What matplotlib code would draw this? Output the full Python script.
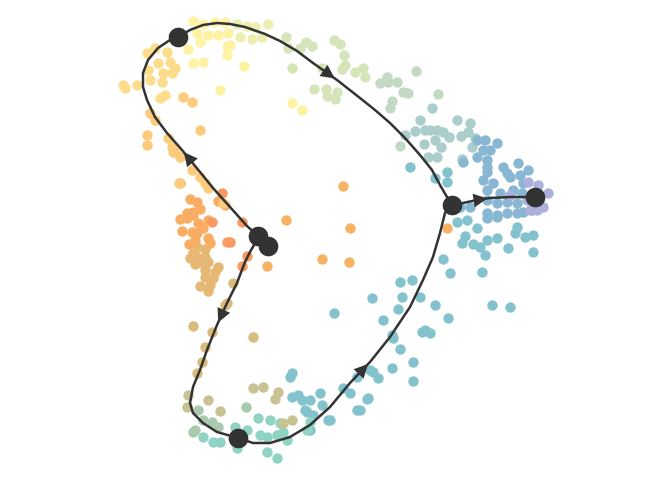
import matplotlib
matplotlib.use("Agg")
import matplotlib.pyplot as plt

# cell embedding (dim 1 to the right, dim 2 downward), grouped by colour along pseudotime
pale_orange = [(147, 53), (155, 48), (167, 52), (158, 63), (170, 62), (175, 68), (148, 70), (163, 73),
               (172, 73), (150, 80), (162, 82), (123, 85), (125, 88), (137, 85), (160, 98), (165, 95)]
light_orange = [(147, 135), (147, 145), (150, 113), (155, 120), (168, 138), (172, 147), (175, 152),
                (179, 183), (192, 170), (200, 177), (173, 152), (180, 157), (205, 183), (208, 188),
                (183, 97), (192, 102), (200, 130), (223, 203)]
orange = [(180, 183), (190, 199), (197, 202), (200, 209), (193, 212), (187, 213), (180, 219), (187, 218),
          (193, 215), (198, 223), (203, 228), (182, 231), (192, 232), (197, 233), (208, 238), (195, 240),
          (189, 244), (210, 243), (208, 220), (218, 201), (225, 205)]
red_orange = [(222, 193), (212, 222), (242, 222), (230, 242), (227, 242), (247, 256), (242, 266)]
far_orange = [(343, 186), (350, 228), (322, 259), (349, 262), (267, 266), (286, 220), (447, 228)]
tan_orange = [(195, 264), (200, 262), (208, 262), (218, 267), (205, 270), (215, 272), (205, 277),
              (213, 278), (200, 286), (210, 285), (208, 291), (190, 258), (197, 257), (205, 257),
              (193, 253), (197, 247), (205, 249)]
tan = [(193, 326), (212, 332), (205, 347), (253, 337), (202, 362), (227, 303), (225, 305), (233, 283),
       (197, 373)]
khaki = [(253, 388), (263, 387), (278, 392), (275, 399), (188, 395), (208, 400), (220, 411),
         (187, 407), (292, 420), (283, 423)]
sage = [(193, 432), (203, 420), (212, 422), (218, 427), (195, 430), (246, 407), (198, 410)]
mint = [(258, 418), (270, 420), (280, 423), (283, 432), (260, 435), (267, 437), (277, 435), (287, 440),
        (307, 430), (310, 422), (237, 448), (267, 452), (277, 458), (247, 430), (235, 427), (220, 442),
        (213, 442), (203, 437)]
teal = [(457, 222), (467, 220), (477, 228), (517, 227), (515, 233), (525, 237), (533, 235), (465, 236),
        (462, 243), (473, 244), (480, 247), (487, 240), (497, 238), (508, 248), (485, 255), (533, 252),
        (443, 259), (450, 273), (482, 272), (400, 282), (412, 280), (372, 298), (402, 297), (420, 297),
        (435, 305), (492, 305), (510, 307), (398, 309), (383, 320), (448, 318), (334, 313), (422, 332),
        (430, 333), (425, 330), (393, 338), (392, 335), (400, 349), (413, 362), (413, 381), (392, 368),
        (378, 378), (373, 372), (357, 377), (370, 370), (343, 388), (350, 393), (367, 399), (357, 410),
        (360, 410), (368, 398), (330, 420), (322, 405), (320, 393), (310, 400), (313, 415), (305, 410),
        (302, 400), (298, 395), (292, 397), (290, 377), (292, 373), (310, 430), (307, 412), (328, 420),
        (410, 167), (447, 172), (447, 182), (435, 178)]
yellow = [(193, 21), (203, 24), (215, 22), (225, 22), (197, 33), (208, 35), (218, 35), (228, 33),
          (200, 42), (227, 46), (230, 45), (227, 55), (193, 63), (203, 62), (220, 90), (292, 103),
          (302, 110), (244, 66), (188, 49)]
yellow_green = [(237, 24), (247, 26), (255, 27), (240, 37), (252, 39), (262, 37), (268, 24)]
light_green = [(286, 37), (288, 48), (300, 48), (306, 42), (312, 46), (334, 40), (340, 44), (344, 55),
               (345, 65), (342, 69), (322, 68), (292, 68), (355, 72), (363, 68), (365, 77), (314, 89),
               (326, 89), (327, 96), (335, 99), (337, 92)]
grey_green = [(380, 83), (387, 77), (388, 82), (397, 82), (416, 71), (403, 92), (408, 93), (392, 101),
              (390, 108), (438, 94), (400, 146)]
grey_teal = [(432, 108), (420, 120), (457, 120), (470, 123), (415, 131), (425, 130), (430, 130),
             (437, 130), (443, 132), (449, 137), (461, 136), (468, 132), (475, 138), (405, 135),
             (424, 144), (435, 140), (441, 147), (472, 147), (428, 157), (437, 157), (462, 159)]
blue = [(477, 140), (485, 140), (497, 143), (483, 150), (490, 150), (477, 157), (487, 160), (463, 162),
        (487, 167), (487, 172), (503, 167), (507, 173), (518, 163), (528, 170), (483, 180), (493, 183),
        (510, 177), (520, 175), (523, 183), (487, 190), (500, 193), (513, 190), (522, 193), (487, 200),
        (497, 203), (507, 202), (517, 203), (487, 213), (497, 215), (507, 213), (517, 213), (523, 212),
        (487, 218), (497, 217), (470, 207), (460, 207)]
lavender = [(528, 182), (538, 185), (548, 193), (543, 207), (537, 210), (532, 210), (527, 200),
            (530, 210), (510, 195)]

groups = [
    (teal, "#84C3CD"), (mint, "#8ED3C3"), (sage, "#AACAAF"), (khaki, "#CBC293"), (tan, "#D9BB7D"),
    (tan_orange, "#E6B873"), (orange, "#F9AD62"), (red_orange, "#F89B63"), (far_orange, "#F8B264"),
    (light_orange, "#FDCB7C"), (pale_orange, "#FDDC8C"), (yellow, "#FEF2A3"),
    (yellow_green, "#EBEFB0"), (light_green, "#D6E5B9"), (grey_green, "#C2D9C3"),
    (grey_teal, "#ABCECA"), (blue, "#88B7D4"), (lavender, "#ACB0DA"),
]

# trajectory edges (waypoints) and milestones
edge_start_top = [(258, 236), (247, 226), (230, 207), (213, 188), (200, 172), (182, 150), (167, 133),
                  (155, 117), (147, 100), (143, 87), (143, 73), (148, 60), (158, 48), (170, 40), (178, 37)]
edge_top_branch = [(178, 37), (190, 30), (203, 25), (217, 23), (230, 24), (245, 27), (265, 34),
                   (280, 41), (297, 51), (313, 63), (337, 80), (360, 98), (375, 110), (390, 123),
                   (405, 138), (420, 155), (432, 170), (440, 185), (447, 197), (452, 205)]
edge_branch_end = [(452, 205), (463, 203), (477, 200), (490, 198), (510, 197), (535, 197)]
edge_start_bottom = [(258, 238), (250, 252), (245, 262), (237, 283), (227, 303), (217, 325), (207, 350),
                     (200, 370), (193, 387), (190, 403), (193, 413), (203, 423), (217, 432), (238, 438)]
edge_bottom_branch = [(238, 438), (253, 443), (270, 443), (290, 437), (310, 425), (330, 407), (350, 383),
                      (370, 362), (390, 337), (410, 307), (423, 280), (433, 257), (440, 233), (445, 213),
                      (452, 205)]
edges = [(edge_start_top, 5), (edge_top_branch, 10), (edge_branch_end, 3),
         (edge_start_bottom, 5), (edge_bottom_branch, 7)]
milestones = [(258, 236), (268, 246), (178, 37), (452, 205), (535, 197), (238, 438)]

fig = plt.figure(figsize=(6.72, 4.8), dpi=100)
ax = fig.add_axes([0, 0, 1, 1])

for pts, col in groups:
    ax.scatter([p[0] for p in pts], [p[1] for p in pts], s=56, color=col, linewidths=0, zorder=2)

line_col = "#333333"
for pts, k in edges:
    ax.plot([p[0] for p in pts], [p[1] for p in pts], color=line_col, lw=1.8, zorder=3,
            solid_capstyle="round", solid_joinstyle="round")
    ax.annotate("", xy=pts[k], xytext=pts[k - 1],
                arrowprops=dict(arrowstyle="-|>,head_length=0.9,head_width=0.45",
                                color=line_col, lw=0, mutation_scale=11), zorder=4)

ax.scatter([m[0] for m in milestones], [m[1] for m in milestones], s=200, color=line_col,
           linewidths=0, zorder=5)

ax.set_xlim(0, 672)
ax.set_ylim(480, 0)
ax.axis("off")

fig.savefig("out.png", dpi=100)
